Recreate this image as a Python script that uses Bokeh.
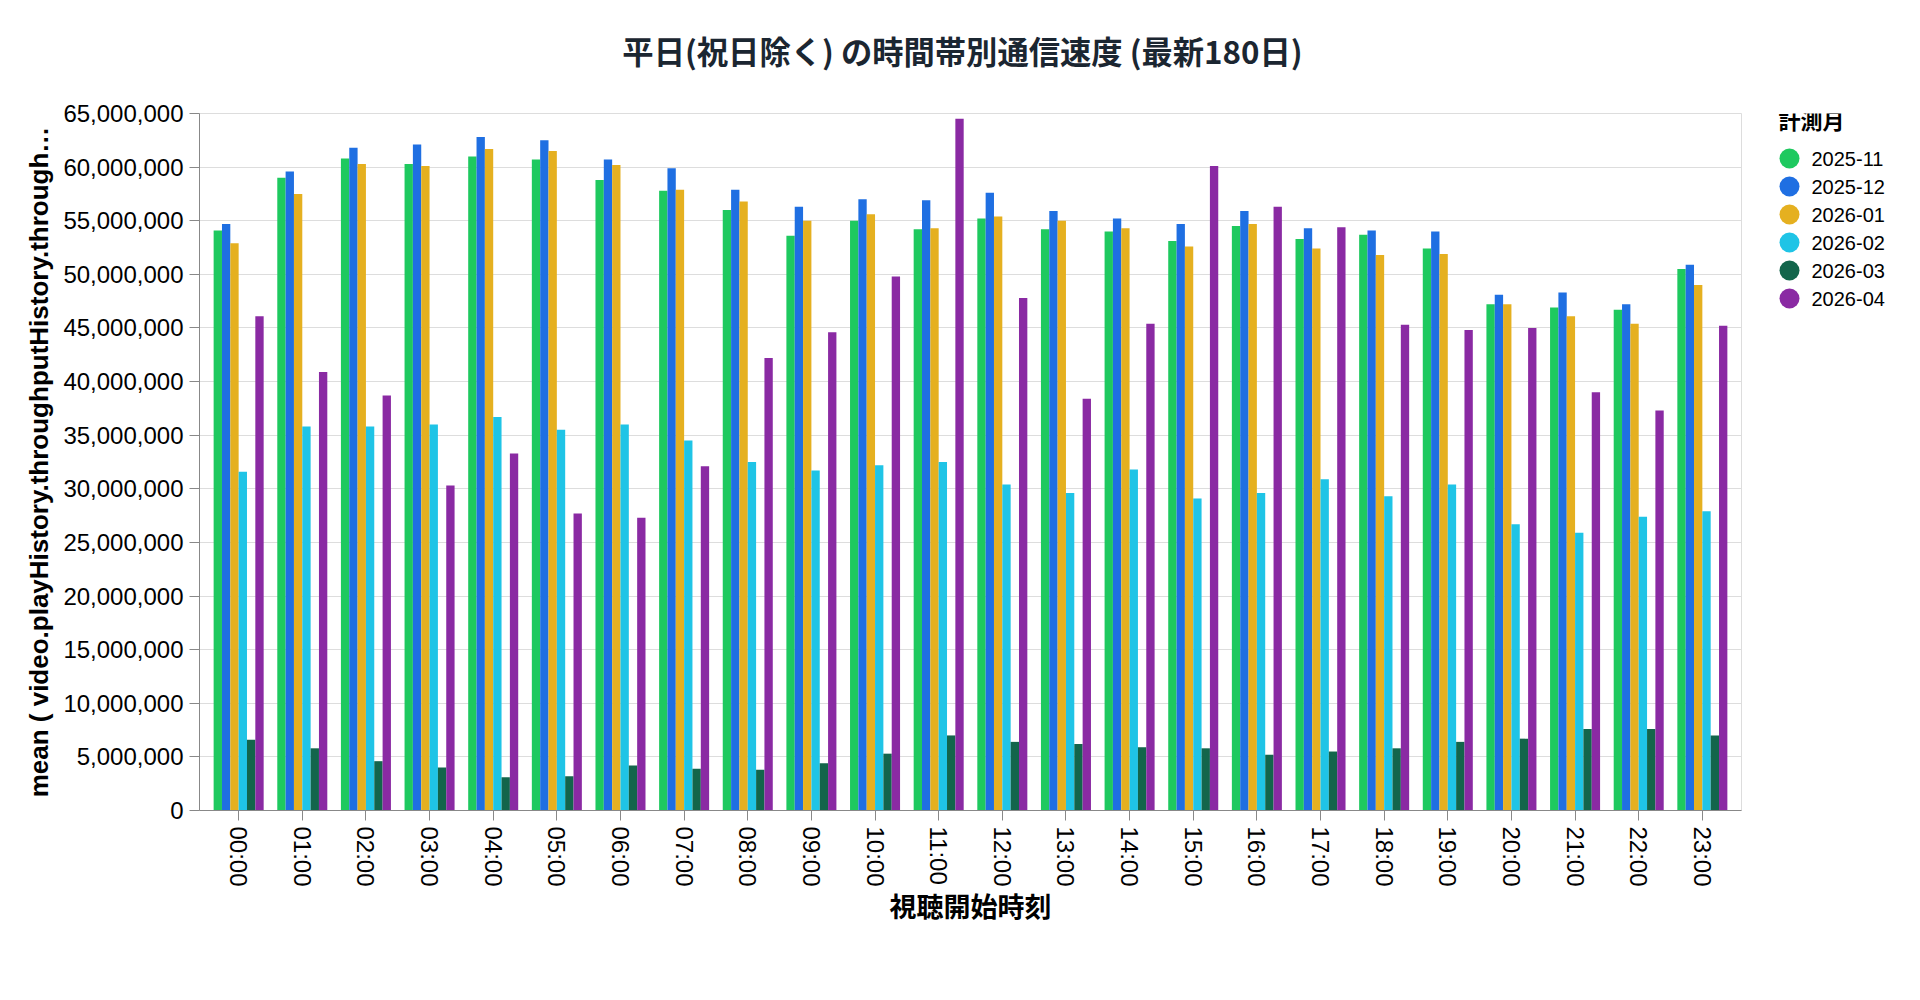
from bokeh.plotting import figure
from bokeh.layouts import row, column
from bokeh.models import (ColumnDataSource, FactorRange, Range1d,
                          NumeralTickFormatter, SingleIntervalTicker)
from bokeh.core.properties import value
from bokeh.transform import dodge
from bokeh.embed import file_html
from bokeh.resources import INLINE

# 視聴開始時刻 (0-23時)
hours = ["%02d:00" % h for h in range(24)]
months = ["2025-11", "2025-12", "2026-01", "2026-02", "2026-03", "2026-04"]
colors = ["#1ec95f", "#1f6fe2", "#e5b020", "#1fc4e6", "#13654b", "#8a2aa3"]

# mean throughput per hour, one list per 計測月
v_2025_11 = [54.1, 59.0, 60.8, 60.3, 61.0, 60.7, 58.8, 57.8, 56.0, 53.6, 55.0, 54.2,
             55.2, 54.2, 54.0, 53.1, 54.5, 53.3, 53.7, 52.4, 47.2, 46.9, 46.7, 50.5]
v_2025_12 = [54.7, 59.6, 61.8, 62.1, 62.8, 62.5, 60.7, 59.9, 57.9, 56.3, 57.0, 56.9,
             57.6, 55.9, 55.2, 54.7, 55.9, 54.3, 54.1, 54.0, 48.1, 48.3, 47.2, 50.9]
v_2026_01 = [52.9, 57.5, 60.3, 60.1, 61.7, 61.5, 60.2, 57.9, 56.8, 55.0, 55.6, 54.3,
             55.4, 55.0, 54.3, 52.6, 54.7, 52.4, 51.8, 51.9, 47.2, 46.1, 45.4, 49.0]
v_2026_02 = [31.6, 35.8, 35.8, 36.0, 36.7, 35.5, 36.0, 34.5, 32.5, 31.7, 32.2, 32.5,
             30.4, 29.6, 31.8, 29.1, 29.6, 30.9, 29.3, 30.4, 26.7, 25.9, 27.4, 27.9]
v_2026_03 = [6.6, 5.8, 4.6, 4.0, 3.1, 3.2, 4.2, 3.9, 3.8, 4.4, 5.3, 7.0,
             6.4, 6.2, 5.9, 5.8, 5.2, 5.5, 5.8, 6.4, 6.7, 7.6, 7.6, 7.0]
v_2026_04 = [46.1, 40.9, 38.7, 30.3, 33.3, 27.7, 27.3, 32.1, 42.2, 44.6, 49.8, 64.5,
             47.8, 38.4, 45.4, 60.1, 56.3, 54.4, 45.3, 44.8, 45.0, 39.0, 37.3, 45.2]

series = [v_2025_11, v_2025_12, v_2026_01, v_2026_02, v_2026_03, v_2026_04]
title_text = "平日(祝日除く) の時間帯別通信速度 (最新180日)"

data = {"hour": hours}
for m, vals in zip(months, series):
    data[m] = [v * 1_000_000 for v in vals]
source = ColumnDataSource(data)

LATIN = "Liberation Sans"
CJK = "Noto Sans CJK JP"
W = 1912
TITLE_H = 80
H = 888
TOP, BOTTOM = 33, 158

# title strip across the full width
tf = figure(width=W, height=TITLE_H, x_range=Range1d(0, W), y_range=Range1d(TITLE_H, 0),
            min_border=0, x_axis_location=None, y_axis_location=None,
            output_backend="svg", toolbar_location=None)
tf.outline_line_color = None
tf.xgrid.visible = False
tf.ygrid.visible = False
tf.text(x=[962], y=[50], text=[title_text], text_font=value(CJK),
        text_font_size="31.3px", text_font_style="bold", text_align="center",
        text_baseline="middle", text_color="#1b2631")

p = figure(x_range=FactorRange(factors=hours, range_padding=0.0096),
           y_range=Range1d(0, 65_000_000),
           width=1761, height=H,
           min_border_left=199, min_border_right=20,
           min_border_top=TOP, min_border_bottom=BOTTOM,
           output_backend="svg", toolbar_location=None)

bar_w = 0.131
for k, (m, c) in enumerate(zip(months, colors)):
    off = (k - 2.5) * bar_w
    p.vbar(x=dodge("hour", off, range=p.x_range), top=m, width=bar_w,
           source=source, fill_color=c, line_color=None)

p.outline_line_color = "#dddddd"
p.xgrid.grid_line_color = None
p.ygrid.grid_line_color = "#dddddd"
p.ygrid.grid_line_width = 1

p.yaxis.ticker = SingleIntervalTicker(interval=5_000_000, num_minor_ticks=0)
p.yaxis.formatter = NumeralTickFormatter(format="0,0")
p.yaxis.axis_label = "mean ( video.playHistory.throughputHistory.through…"
p.xaxis.axis_label = "視聴開始時刻"
p.xaxis.major_label_orientation = "vertical"

for ax in (p.xaxis, p.yaxis):
    ax.axis_line_color = "#888888"
    ax.major_tick_line_color = "#888888"
    ax.major_tick_out = 10
    ax.major_tick_in = 0
    ax.minor_tick_line_color = None
    ax.major_label_text_font = LATIN
    ax.major_label_text_font_size = "24px"
    ax.major_label_text_color = "#000000"
    ax.major_label_standoff = 6
    ax.axis_label_text_font_style = "bold"
    ax.axis_label_text_color = "#000000"

p.yaxis.axis_label_text_font = LATIN
p.yaxis.axis_label_text_font_size = "26px"
p.yaxis.axis_label_standoff = 6
p.xaxis.axis_label_text_font = CJK
p.xaxis.axis_label_text_font_size = "27px"
p.xaxis.axis_label_standoff = -4

# legend (計測月) drawn as its own small panel, frame aligned with the chart's frame
FRAME_H = H - TOP - BOTTOM
lf = figure(width=W - 1761, height=H, x_range=Range1d(0, W - 1761),
            y_range=Range1d(FRAME_H, 0),
            min_border_left=0, min_border_right=0,
            min_border_top=TOP, min_border_bottom=BOTTOM,
            x_axis_location=None, y_axis_location=None,
            output_backend="svg", toolbar_location=None)
lf.outline_line_color = None
lf.xgrid.visible = False
lf.ygrid.visible = False

row_y = [45 + 28 * i for i in range(len(months))]
leg_src = ColumnDataSource(dict(month=months, color=colors, y=row_y))
lf.scatter(x=28, y="y", size=20, marker="circle", fill_color="color",
           line_color=None, source=leg_src)
lf.text(x=50, y="y", text="month", source=leg_src, text_font=value(LATIN),
        text_font_size="20px", text_baseline="middle", text_color="#000000")
lf.text(x=[17], y=[5], text=["計測月"], text_font=value(CJK),
        text_font_size="22px", text_font_style="bold", text_baseline="middle",
        text_color="#000000")

layout = column(tf, row(p, lf))
open("out.html", "w").write(file_html(layout, INLINE))
